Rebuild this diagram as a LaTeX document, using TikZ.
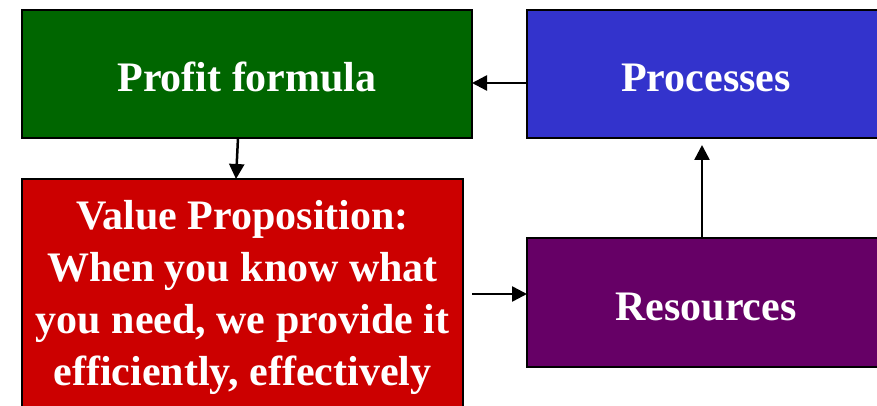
\documentclass[tikz,border=0pt]{standalone}
\usepackage{fontspec}
\setmainfont{Liberation Serif}
\usetikzlibrary{arrows.meta}
\definecolor{profitgreen}{RGB}{0,102,0}
\definecolor{procblue}{RGB}{51,51,204}
\definecolor{valred}{RGB}{204,0,0}
\definecolor{respurple}{RGB}{102,0,102}
\tikzset{
	box/.style = {draw=black, line width=2.5pt, fill=#1, text=white,
		font=\fontsize{42}{52}\selectfont\bfseries, align=center,
		inner sep=0pt, outer sep=0pt},
	box/.default = white,
	oneline/.style = {text height=35pt, text depth=0pt},
	link/.style = {line width=2.5pt, -{Triangle[length=15pt,width=15pt]}}
}
\begin{document}
\begin{tikzpicture}[x=1pt, y=-1pt]
\useasboundingbox (0,0) rectangle (877,406);
\node[box=profitgreen, oneline, minimum width=450pt, minimum height=128pt] (profit) at (247,74) {Profit formula};
\node[box=procblue, oneline, minimum width=358pt, minimum height=128pt] (proc) at (706,74) {Processes};
\node[box=valred, minimum width=441pt, minimum height=236pt] (value) at (242.5,297)
	{Value Proposition:\\When you know what\\you need, we provide it\\efficiently, effectively};
\node[box=respurple, oneline, minimum width=358pt, minimum height=129pt] (res) at (706,302.5) {Resources};

\coordinate (vp) at (472,294);
\coordinate (up) at (702,145);
\coordinate (back) at (527,83);

\draw[link] (back) to (back -| profit.east);
\draw[link] ([xshift=-9pt]profit.south) to ([xshift=-6.5pt]value.north);
\draw[link] (vp) to (vp -| res.west);
\draw[link] (up |- res.north) to (up);
\end{tikzpicture}
\end{document}
